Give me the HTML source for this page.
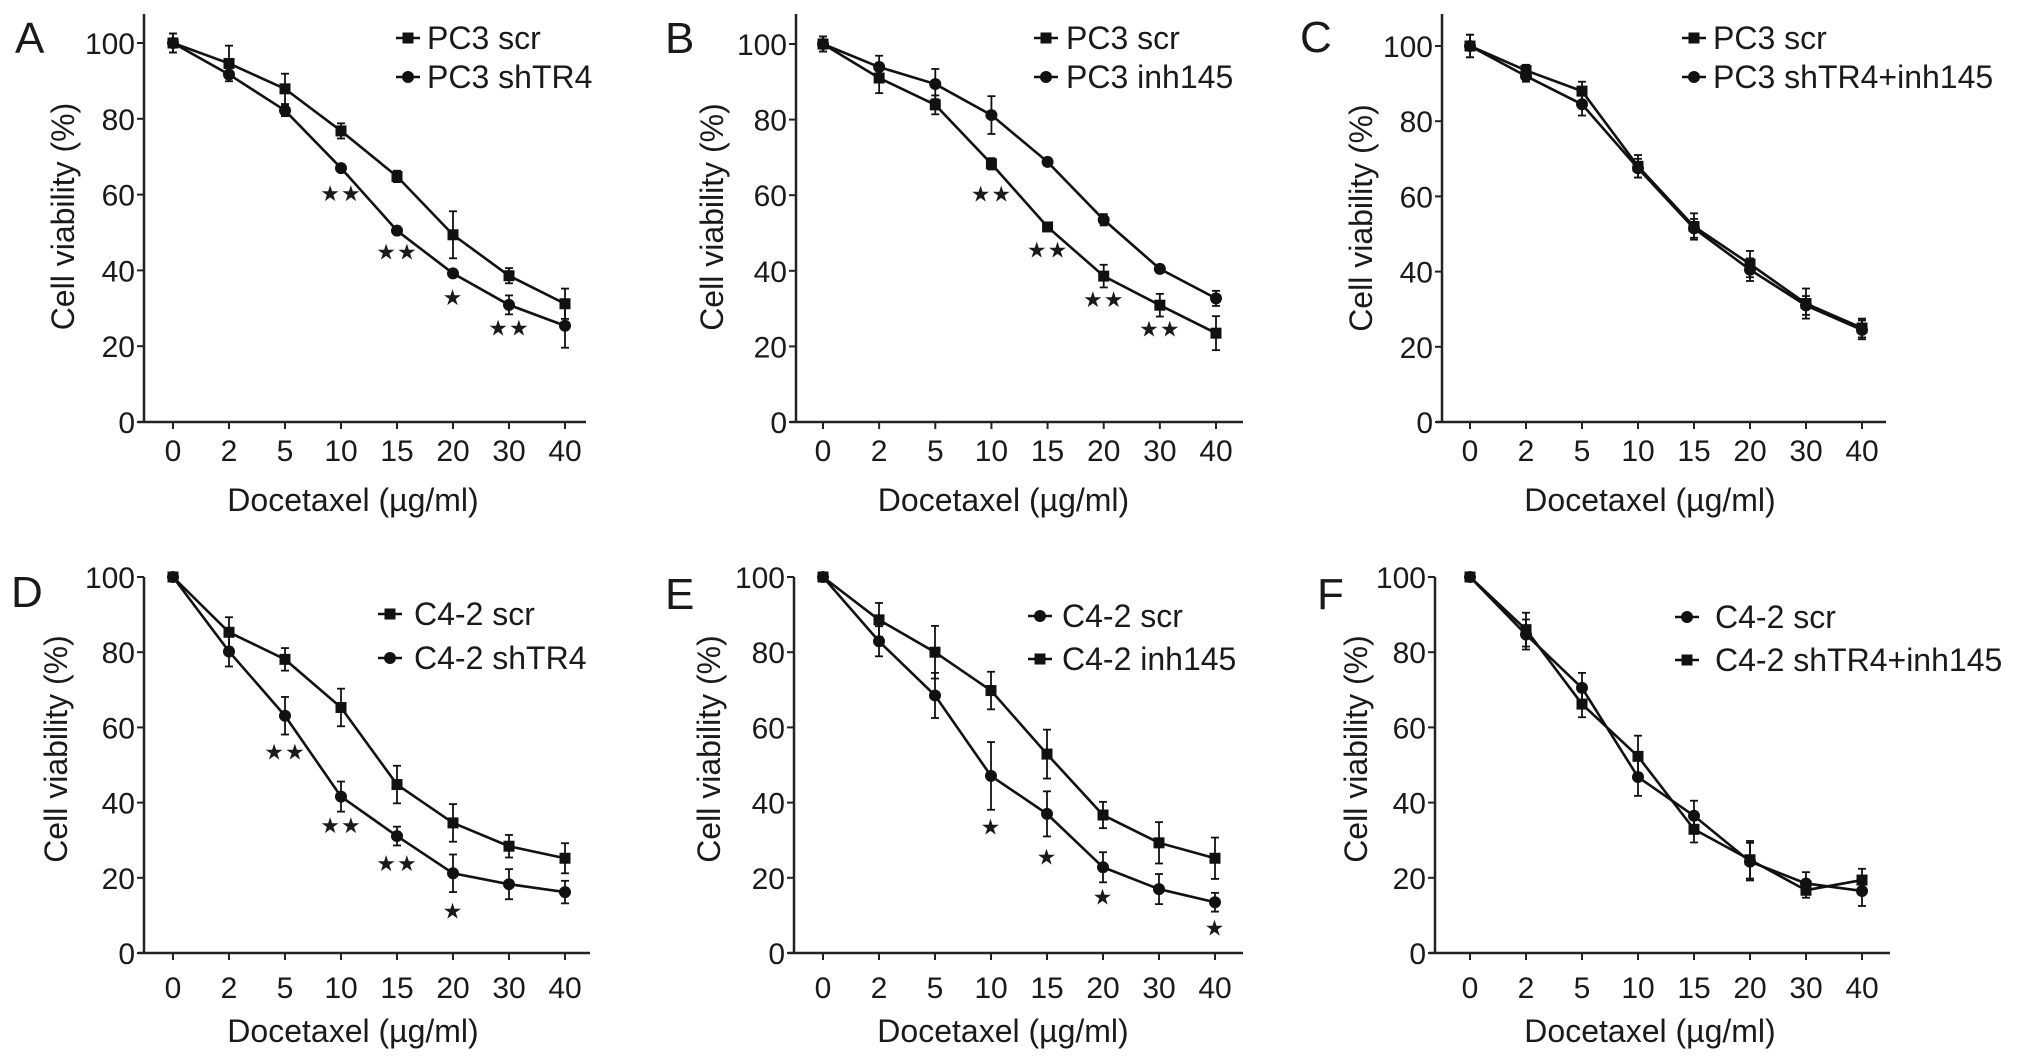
<!DOCTYPE html>
<html><head><meta charset="utf-8">
<style>
html,body{margin:0;padding:0;background:#fff;}
svg{display:block;}
text{font-family:"Liberation Sans",Arial,sans-serif;fill:#1a1a1a;}
</style></head>
<body>
<svg id="fig" width="2032" height="1062" viewBox="0 0 2032 1062" xmlns="http://www.w3.org/2000/svg"></svg>
<script>
const categories = ["0","2","5","10","15","20","30","40"];
const yTicks = [0,20,40,60,80,100];

const aScr = [100,94.6,87.9,76.8,64.8,49.4,38.6,31.2];
const aScrErr = [2.5,4.7,4,2,1.5,6.2,2,4];
const aSh = [100,91.7,82.2,67.0,50.5,39.2,30.9,25.4];
const aShErr = [2.5,1,1.5,1,1,1,2.5,5.8];
const aStars = ["","","","**","**","*","**",""];
const aStarY = [0,0,0,60.4,45,33,25,0];

const bScr = [100,91.0,83.9,68.3,51.6,38.6,30.9,23.5];
const bScrErr = [2,4,2.5,1.5,1,3,3,4.5];
const bInh = [100,93.9,89.4,81.2,68.8,53.5,40.5,32.7];
const bInhErr = [2,3,4,5,1,1.5,1,2];
const bStars = ["","","","**","**","**","**",""];
const bStarY = [0,0,0,60.5,45.7,32.6,24.7,0];

const cScr = [100,93.5,88,68,52,42,31.5,25];
const cScrErr = [3,1.5,2.5,3,3.5,3.5,4,2.5];
const cCombo = [100,92,84.5,67.5,51.5,40.5,31,24.5];
const cComboErr = [3,1.5,3,2.5,2.5,3,2.5,2.5];

const dScr = [100,85.3,78.1,65.3,44.8,34.6,28.4,25.2];
const dScrErr = [1,4,3,5,5,5,3,4];
const dSh = [100,80.2,63.1,41.6,31.1,21.2,18.3,16.2];
const dShErr = [1,4,5,4,2.5,5,4,3];
const dStars = ["","","**","**","**","*","",""];
const dStarY = [0,0,53.6,34,23.9,11.3,0,0];

const eScr = [100,82.9,68.5,47.1,37.0,22.8,17.0,13.5];
const eScrErr = [1,4,6,9,6,4,4,2.5];
const eInh = [100,88.6,80,69.8,52.9,36.7,29.3,25.2];
const eInhErr = [1,4.5,7,5,6.5,3.5,5.5,5.5];
const eStars = ["","","","*","*","*","","*"];
const eStarY = [0,0,0,33.7,25.7,15,0,6.8];

const fScr = [100,84.7,70.5,46.8,36.5,24.3,18.5,16.5];
const fScrErr = [1,4,4,5,4,5,3,4];
const fCombo = [100,86,66.2,52.3,32.9,24.8,16.7,19.4];
const fComboErr = [1,4.5,3.5,5.5,3.5,5,2,3];

const panels = [
 {id:"a",letter:"A",lx:15,ly:53,ax:144,x0:173,x1:565,xe:586,y100:43,y0:422,top:14,tx:461,tt:511,yt:63,mk:408,lt:427,r1:38,r2:77,
  series:[{name:"PC3 scr",v:aScr,e:aScrErr,m:"sq"},{name:"PC3 shTR4",v:aSh,e:aShErr,m:"ci"}],stars:aStars,starY:aStarY},
 {id:"b",letter:"B",lx:665,ly:53,ax:796,x0:823,x1:1216,xe:1243,y100:44,y0:422,top:14,tx:461,tt:511,yt:712,mk:1046,lt:1066,r1:38,r2:77,
  series:[{name:"PC3 scr",v:bScr,e:bScrErr,m:"sq"},{name:"PC3 inh145",v:bInh,e:bInhErr,m:"ci"}],stars:bStars,starY:bStarY},
 {id:"c",letter:"C",lx:1300,ly:52,ax:1442,x0:1470,x1:1862,xe:1886,y100:46,y0:422,top:14,tx:461,tt:511,yt:1361,mk:1694,lt:1713,r1:38,r2:77,
  series:[{name:"PC3 scr",v:cScr,e:cScrErr,m:"sq"},{name:"PC3 shTR4+inh145",v:cCombo,e:cComboErr,m:"ci"}],stars:[],starY:[]},
 {id:"d",letter:"D",lx:11,ly:607,ax:144,x0:173,x1:565,xe:590,y100:577,y0:953,top:577,tx:998,tt:1042,yt:56,mk:390,lt:414,r1:614,r2:658,
  series:[{name:"C4-2 scr",v:dScr,e:dScrErr,m:"sq"},{name:"C4-2 shTR4",v:dSh,e:dShErr,m:"ci"}],stars:dStars,starY:dStarY},
 {id:"e",letter:"E",lx:665,ly:609,ax:794,x0:823,x1:1215,xe:1243,y100:577,y0:953,top:577,tx:998,tt:1042,yt:709,mk:1040,lt:1062,r1:616,r2:659,
  series:[{name:"C4-2 scr",v:eScr,e:eScrErr,m:"ci"},{name:"C4-2 inh145",v:eInh,e:eInhErr,m:"sq"}],stars:eStars,starY:eStarY},
 {id:"f",letter:"F",lx:1317,ly:609,ax:1435,x0:1470,x1:1862,xe:1890,y100:577,y0:953,top:577,tx:998,tt:1042,yt:1356,mk:1687,lt:1715,r1:617,r2:660,
  series:[{name:"C4-2 scr",v:fScr,e:fScrErr,m:"ci"},{name:"C4-2 shTR4+inh145",v:fCombo,e:fComboErr,m:"sq"}],stars:[],starY:[]}
];

const NS = "http://www.w3.org/2000/svg";
const fig = document.getElementById("fig");
function mk(tag, attrs, parent){
  const el = document.createElementNS(NS, tag);
  for (const k in attrs) el.setAttribute(k, attrs[k]);
  parent.appendChild(el);
  return el;
}
function marker(g, kind, x, y){
  let el;
  if (kind === "sq") el = mk("rect",{x:x-5.5,y:y-5.5,width:11,height:11,fill:"#111"},g);
  else el = mk("circle",{cx:x,cy:y,r:6,fill:"#111"},g);
  return el;
}

panels.forEach(p => {
  const g = mk("g",{},fig);
  
  
  const xs = i => p.x0 + (p.x1 - p.x0) * i / (categories.length - 1);
  const ys = v => p.y0 + (p.y100 - p.y0) * v / 100;

  const lab = mk("text",{x:p.lx,y:p.ly,"font-size":44},g);
  lab.textContent = p.letter;
  
  

  const yaxis = mk("line",{x1:p.ax,y1:p.top,x2:p.ax,y2:p.y0+1,stroke:"#222","stroke-width":2.5},g);
  
  
  const xaxis = mk("line",{x1:p.ax-6,y1:p.y0,x2:p.xe,y2:p.y0,stroke:"#222","stroke-width":2.5},g);
  
  

  yTicks.forEach(t => {
    const y = ys(t);
    mk("line",{x1:p.ax-7,y1:y,x2:p.ax,y2:y,stroke:"#222","stroke-width":2},g);
    const tl = mk("text",{x:p.ax-9,y:y+11,"font-size":30,"text-anchor":"end"},g);
    tl.textContent = t;
    
    
  });
  categories.forEach((c,i) => {
    const x = xs(i);
    mk("line",{x1:x,y1:p.y0,x2:x,y2:p.y0+7,stroke:"#222","stroke-width":2},g);
    const tl = mk("text",{x:x,y:p.tx,"font-size":30,"text-anchor":"middle"},g);
    tl.textContent = c;
    
    
  });

  const xt = mk("text",{x:(p.x0+p.x1)/2-16,y:p.tt,"font-size":32,"text-anchor":"middle"},g);
  xt.textContent = "Docetaxel (µg/ml)";
  
  
  const ymid = (p.y0 + p.y100)/2 - 16;
  const yt = mk("text",{x:0,y:0,"font-size":32,"text-anchor":"middle",transform:`translate(${p.yt+11},${ymid}) rotate(-90)`},g);
  yt.textContent = "Cell viability (%)";
  
  

  p.series.forEach((s, si) => {
    const sg = mk("g",{},g);
    
    
    const pts = s.v.map((v,i) => xs(i) + "," + ys(v)).join(" ");
    mk("polyline",{points:pts,fill:"none",stroke:"#111","stroke-width":2.6},sg);
    s.v.forEach((v,i) => {
      const x = xs(i), yh = ys(v + s.e[i]), yl = ys(v - s.e[i]);
      mk("line",{x1:x,y1:yh,x2:x,y2:yl,stroke:"#111","stroke-width":1.8},sg);
      mk("line",{x1:x-4,y1:yh,x2:x+4,y2:yh,stroke:"#111","stroke-width":1.8},sg);
      mk("line",{x1:x-4,y1:yl,x2:x+4,y2:yl,stroke:"#111","stroke-width":1.8},sg);
      const m = marker(sg, s.m, x, ys(v));
      
      
    });
    const ry = si === 0 ? p.r1 : p.r2;
    const lg = mk("g",{},g);
    
    
    mk("line",{x1:p.mk-12,y1:ry,x2:p.mk+12,y2:ry,stroke:"#111","stroke-width":2.6},lg);
    marker(lg, s.m, p.mk, ry);
    const lt = mk("text",{x:p.lt,y:ry+11,"font-size":32},lg);
    lt.textContent = s.name;
  });

  p.stars.forEach((st,i) => {
    if (!st) return;
    const t = mk("text",{x:xs(i),y:ys(p.starY[i])+8,"font-size":22,"text-anchor":"middle","letter-spacing":"1"},g);
    t.textContent = st.replace(/\*/g,"★");
    
    
  });
});
</script>
</body></html>
